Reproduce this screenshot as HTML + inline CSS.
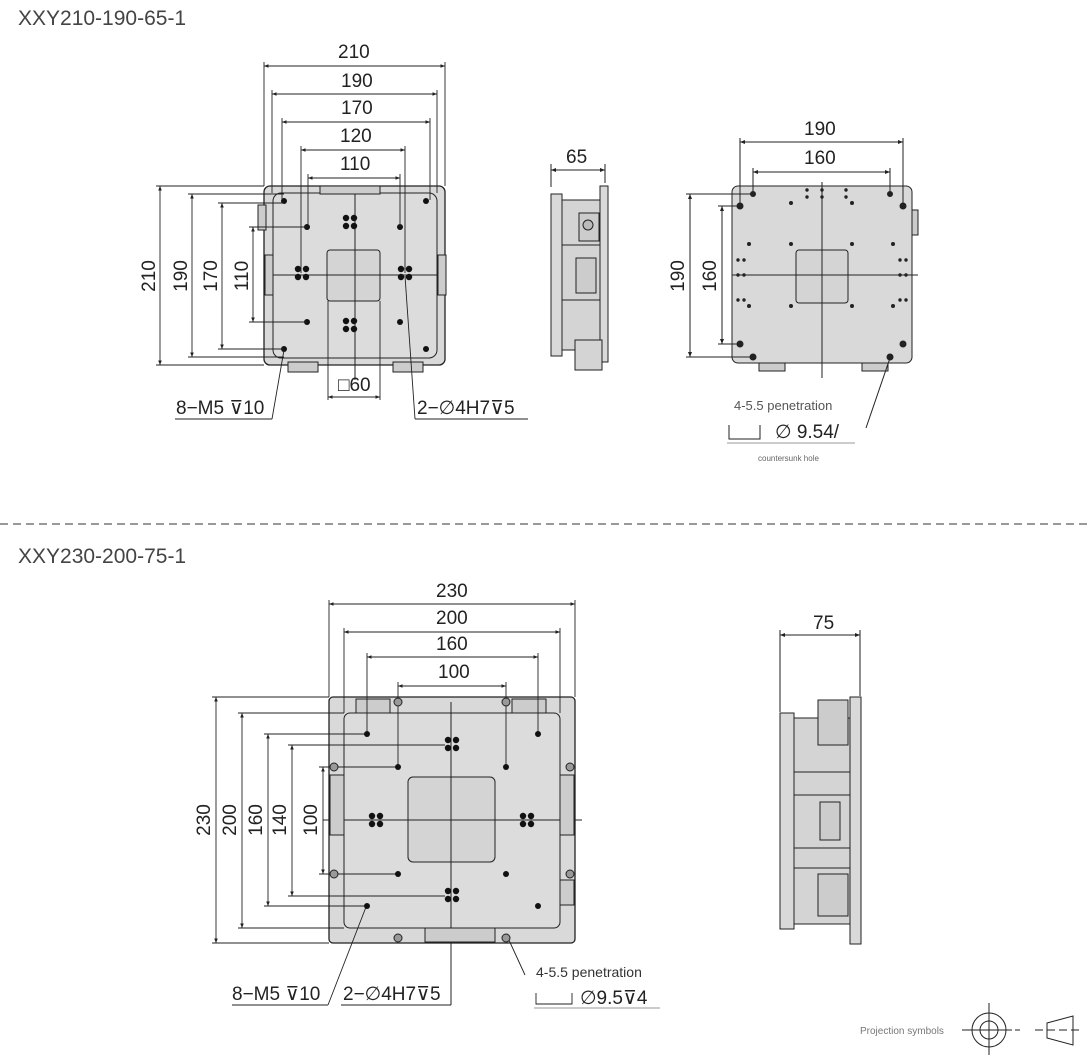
<!DOCTYPE html>
<html><head><meta charset="utf-8"><style>
html,body{margin:0;padding:0;background:#fff;}
svg{display:block}
text{font-family:"Liberation Sans",sans-serif;}
.d{font-family:"Liberation Sans Narrow","Liberation Sans",sans-serif;font-size:19px;fill:#222}
</style></head><body>
<svg width="1088" height="1055" viewBox="0 0 1088 1055" xmlns="http://www.w3.org/2000/svg">
<defs>
<marker id="a" viewBox="0 0 10 10" refX="10" refY="5" markerWidth="9" markerHeight="5" orient="auto-start-reverse"><path d="M0,1L10,5L0,9z" fill="#222"/></marker>
<g id="c4"><circle cx="-4" cy="-4" r="3.2"/><circle cx="4" cy="-4" r="3.2"/><circle cx="-4" cy="4" r="3.2"/><circle cx="4" cy="4" r="3.2"/></g>
</defs>
<g stroke="#222" fill="none" stroke-width="1">
<text x="18" y="25" font-size="21" fill="#444" stroke="none">XXY210-190-65-1</text>
<rect x="264" y="186" width="181" height="179" rx="6" fill="#d9d9d9" stroke-width="1.3"/>
<rect x="273" y="193" width="164" height="165" rx="8" fill="#dcdcdc"/>
<rect x="327" y="250" width="53" height="51" rx="3" fill="#d4d4d4"/>
<line x1="355" y1="186" x2="355" y2="380"/><line x1="270" y1="275" x2="445" y2="275"/>
<g fill="#111" stroke="none">
<circle cx="307" cy="227" r="3"/><circle cx="400" cy="227" r="3"/><circle cx="307" cy="322" r="3"/><circle cx="400" cy="322" r="3"/>
<circle cx="284" cy="201" r="3"/><circle cx="426" cy="201" r="3"/><circle cx="284" cy="349" r="3"/><circle cx="426" cy="349" r="3"/>
<use href="#c4" x="350" y="222"/><use href="#c4" x="350" y="325"/><use href="#c4" x="302" y="273"/><use href="#c4" x="405" y="273"/>
</g>
<rect x="320" y="186" width="60" height="8" fill="#ccc"/>
<rect x="288" y="362" width="30" height="10" fill="#ccc"/><rect x="393" y="362" width="30" height="10" fill="#ccc"/>
<rect x="258" y="205" width="8" height="25" fill="#ccc"/><rect x="265" y="255" width="8" height="40" fill="#ccc"/><rect x="438" y="255" width="8" height="40" fill="#ccc"/>
<g stroke-width="0.9">
<line x1="264" y1="62" x2="264" y2="186"/><line x1="445" y1="62" x2="445" y2="186"/>
<line x1="264" y1="66" x2="445" y2="66" marker-start="url(#a)" marker-end="url(#a)"/>
<line x1="272" y1="90" x2="272" y2="193"/><line x1="437" y1="90" x2="437" y2="193"/>
<line x1="272" y1="94" x2="437" y2="94" marker-start="url(#a)" marker-end="url(#a)"/>
<line x1="282" y1="118" x2="282" y2="200"/><line x1="430" y1="118" x2="430" y2="200"/>
<line x1="282" y1="122" x2="430" y2="122" marker-start="url(#a)" marker-end="url(#a)"/>
<line x1="301" y1="146" x2="301" y2="273"/><line x1="405" y1="146" x2="405" y2="273"/>
<line x1="301" y1="150" x2="405" y2="150" marker-start="url(#a)" marker-end="url(#a)"/>
<line x1="308" y1="174" x2="308" y2="227"/><line x1="400" y1="174" x2="400" y2="227"/>
<line x1="308" y1="178" x2="400" y2="178" marker-start="url(#a)" marker-end="url(#a)"/>
<line x1="156" y1="186" x2="264" y2="186"/><line x1="156" y1="365" x2="264" y2="365"/>
<line x1="160" y1="186" x2="160" y2="365" marker-start="url(#a)" marker-end="url(#a)"/>
<line x1="188" y1="194" x2="284" y2="194"/><line x1="188" y1="357" x2="284" y2="357"/>
<line x1="192" y1="194" x2="192" y2="357" marker-start="url(#a)" marker-end="url(#a)"/>
<line x1="218" y1="203" x2="284" y2="203"/><line x1="218" y1="349" x2="284" y2="349"/>
<line x1="222" y1="203" x2="222" y2="349" marker-start="url(#a)" marker-end="url(#a)"/>
<line x1="249" y1="227" x2="307" y2="227"/><line x1="249" y1="322" x2="307" y2="322"/>
<line x1="253" y1="227" x2="253" y2="322" marker-start="url(#a)" marker-end="url(#a)"/>
<line x1="328" y1="301" x2="328" y2="400"/><line x1="380" y1="301" x2="380" y2="400"/>
<line x1="328" y1="397" x2="380" y2="397" marker-start="url(#a)" marker-end="url(#a)"/>
<line x1="175" y1="419" x2="272" y2="419"/><line x1="272" y1="419" x2="284" y2="350"/>
<line x1="415" y1="419" x2="528" y2="419"/><line x1="415" y1="419" x2="405" y2="276"/>
</g>
</g>
<g class="d" stroke="none">
<text x="338" y="58">210</text><text x="341" y="87">190</text><text x="341" y="114">170</text><text x="340" y="142">120</text><text x="340" y="170">110</text>
<text transform="translate(155,276) rotate(-90)" text-anchor="middle">210</text>
<text transform="translate(187,276) rotate(-90)" text-anchor="middle">190</text>
<text transform="translate(217,276) rotate(-90)" text-anchor="middle">170</text>
<text transform="translate(248,276) rotate(-90)" text-anchor="middle">110</text>
<text x="338" y="391">□60</text>
<text x="176" y="414">8−M5 ⊽10</text>
<text x="417" y="414">2−∅4H7⊽5</text>
</g>
<g stroke="#222" stroke-width="1">
<line x1="551" y1="164" x2="551" y2="187"/><line x1="605" y1="164" x2="605" y2="183"/>
<line x1="551" y1="170" x2="605" y2="170" marker-start="url(#a)" marker-end="url(#a)"/>
<rect x="551" y="194" width="11" height="162" fill="#d9d9d9"/>
<rect x="562" y="200" width="40" height="150" fill="#d4d4d4"/>
<rect x="600" y="186" width="8" height="176" fill="#d9d9d9"/>
<rect x="575" y="340" width="27" height="30" fill="#d4d4d4"/>
<rect x="579" y="213" width="20" height="28" fill="#ccc"/><circle cx="588" cy="225" r="5" fill="#bbb"/>
<line x1="562" y1="245" x2="600" y2="245"/><line x1="562" y1="300" x2="600" y2="300"/>
<rect x="576" y="258" width="20" height="35" fill="#ccc"/>
</g>
<text class="d" x="566" y="163">65</text>
<g stroke="#222" stroke-width="1" fill="none">
<rect x="732" y="186" width="180" height="177" rx="6" fill="#d9d9d9"/>
<rect x="796" y="250" width="52" height="53" rx="3" fill="#d4d4d4"/>
<line x1="822" y1="182" x2="822" y2="378"/><line x1="732" y1="275" x2="918" y2="275"/>
<rect x="912" y="210" width="6" height="25" fill="#ccc"/>
<rect x="759" y="363" width="26" height="8" fill="#ccc"/><rect x="862" y="363" width="26" height="8" fill="#ccc"/>
<line x1="740" y1="138" x2="740" y2="206"/><line x1="903" y1="138" x2="903" y2="206"/>
<line x1="740" y1="142" x2="903" y2="142" marker-start="url(#a)" marker-end="url(#a)"/>
<line x1="753" y1="168" x2="753" y2="193"/><line x1="890" y1="168" x2="890" y2="193"/>
<line x1="753" y1="172" x2="890" y2="172" marker-start="url(#a)" marker-end="url(#a)"/>
<line x1="686" y1="194" x2="753" y2="194"/><line x1="686" y1="357" x2="753" y2="357"/>
<line x1="690" y1="194" x2="690" y2="357" marker-start="url(#a)" marker-end="url(#a)"/>
<line x1="718" y1="206" x2="740" y2="206"/><line x1="718" y1="344" x2="740" y2="344"/>
<line x1="722" y1="206" x2="722" y2="344" marker-start="url(#a)" marker-end="url(#a)"/>
<line x1="866" y1="428" x2="890" y2="358"/>
<path d="M729,425V439H760V425" fill="none"/><line x1="727" y1="443" x2="855" y2="443" stroke="#999"/>
</g>
<g fill="#222">
<circle cx="753" cy="194" r="3"/><circle cx="890" cy="194" r="3"/><circle cx="740" cy="206" r="3.5"/><circle cx="903" cy="206" r="3.5"/>
<circle cx="740" cy="344" r="3.5"/><circle cx="903" cy="344" r="3.5"/><circle cx="753" cy="357" r="3.5"/><circle cx="890" cy="357" r="3.5"/>
<circle cx="791" cy="203" r="2"/><circle cx="852" cy="203" r="2"/><circle cx="749" cy="244" r="2"/><circle cx="791" cy="244" r="2"/><circle cx="852" cy="244" r="2"/><circle cx="893" cy="244" r="2"/>
<circle cx="749" cy="306" r="2"/><circle cx="791" cy="306" r="2"/><circle cx="852" cy="306" r="2"/><circle cx="893" cy="306" r="2"/>
<circle cx="738" cy="260" r="1.7"/><circle cx="744" cy="260" r="1.7"/><circle cx="738" cy="275" r="1.7"/><circle cx="744" cy="275" r="1.7"/><circle cx="738" cy="300" r="1.7"/><circle cx="744" cy="300" r="1.7"/>
<circle cx="900" cy="260" r="1.7"/><circle cx="906" cy="260" r="1.7"/><circle cx="900" cy="275" r="1.7"/><circle cx="906" cy="275" r="1.7"/><circle cx="900" cy="300" r="1.7"/><circle cx="906" cy="300" r="1.7"/>
<circle cx="807" cy="190" r="1.7"/><circle cx="807" cy="197" r="1.7"/><circle cx="822" cy="190" r="1.7"/><circle cx="822" cy="197" r="1.7"/><circle cx="846" cy="190" r="1.7"/><circle cx="846" cy="197" r="1.7"/>
</g>
<g class="d" stroke="none">
<text x="804" y="135">190</text><text x="804" y="164">160</text>
<text transform="translate(684,276) rotate(-90)" text-anchor="middle">190</text>
<text transform="translate(716,276) rotate(-90)" text-anchor="middle">160</text>
</g>
<text x="734" y="410" font-size="13" fill="#555">4-5.5 penetration</text>
<text x="775" y="438" font-size="19" fill="#222">∅ 9.54/</text>
<text x="758" y="461" font-size="8" fill="#666">countersunk hole</text>
<line x1="0" y1="524" x2="1088" y2="524" stroke="#333" stroke-width="1" stroke-dasharray="8,5"/>
<text x="18" y="563" font-size="21" fill="#444">XXY230-200-75-1</text>
<g stroke="#222" fill="none" stroke-width="1">
<rect x="329" y="697" width="246" height="246" rx="4" fill="#d9d9d9" stroke-width="1.3"/>
<rect x="344" y="713" width="216" height="215" rx="6" fill="#dcdcdc"/>
<rect x="408" y="777" width="87" height="85" rx="5" fill="#d4d4d4"/>
<line x1="451" y1="702" x2="451" y2="1005"/><line x1="323" y1="820" x2="582" y2="820"/>
<rect x="356" y="699" width="34" height="14" fill="#ccc"/><rect x="512" y="699" width="34" height="14" fill="#ccc"/>
<rect x="425" y="928" width="70" height="14" fill="#ccc"/>
<rect x="330" y="775" width="14" height="60" fill="#ccc"/><rect x="560" y="775" width="14" height="60" fill="#ccc"/>
<rect x="560" y="880" width="14" height="25" fill="#ccc"/>
<g stroke-width="0.9">
<line x1="329" y1="600" x2="329" y2="697"/><line x1="575" y1="600" x2="575" y2="697"/>
<line x1="329" y1="604" x2="575" y2="604" marker-start="url(#a)" marker-end="url(#a)"/>
<line x1="344" y1="628" x2="344" y2="713"/><line x1="560" y1="628" x2="560" y2="713"/>
<line x1="344" y1="632" x2="560" y2="632" marker-start="url(#a)" marker-end="url(#a)"/>
<line x1="367" y1="653" x2="367" y2="734"/><line x1="538" y1="653" x2="538" y2="734"/>
<line x1="367" y1="657" x2="538" y2="657" marker-start="url(#a)" marker-end="url(#a)"/>
<line x1="398" y1="682" x2="398" y2="767"/><line x1="506" y1="682" x2="506" y2="767"/>
<line x1="398" y1="686" x2="506" y2="686" marker-start="url(#a)" marker-end="url(#a)"/>
<line x1="212" y1="697" x2="329" y2="697"/><line x1="212" y1="943" x2="329" y2="943"/>
<line x1="216" y1="697" x2="216" y2="943" marker-start="url(#a)" marker-end="url(#a)"/>
<line x1="238" y1="713" x2="344" y2="713"/><line x1="238" y1="928" x2="344" y2="928"/>
<line x1="242" y1="713" x2="242" y2="928" marker-start="url(#a)" marker-end="url(#a)"/>
<line x1="264" y1="734" x2="367" y2="734"/><line x1="264" y1="906" x2="367" y2="906"/>
<line x1="268" y1="734" x2="268" y2="906" marker-start="url(#a)" marker-end="url(#a)"/>
<line x1="288" y1="745" x2="445" y2="745"/><line x1="288" y1="896" x2="445" y2="896"/>
<line x1="292" y1="745" x2="292" y2="896" marker-start="url(#a)" marker-end="url(#a)"/>
<line x1="319" y1="767" x2="398" y2="767"/><line x1="319" y1="874" x2="398" y2="874"/>
<line x1="323" y1="767" x2="323" y2="874" marker-start="url(#a)" marker-end="url(#a)"/>
<line x1="232" y1="1005" x2="328" y2="1005"/><line x1="328" y1="1005" x2="366" y2="907"/>
<line x1="341" y1="1005" x2="451" y2="1005"/>
<line x1="525" y1="975" x2="508" y2="938"/>
<path d="M536,993V1004H572V993"/><line x1="534" y1="1008" x2="660" y2="1008" stroke="#999"/>
</g>
</g>
<g fill="#111">
<circle cx="367" cy="734" r="3"/><circle cx="538" cy="734" r="3"/><circle cx="367" cy="906" r="3"/><circle cx="538" cy="906" r="3"/>
<circle cx="398" cy="767" r="3"/><circle cx="506" cy="767" r="3"/><circle cx="398" cy="874" r="3"/><circle cx="506" cy="874" r="3"/>
<use href="#c4" x="452" y="744"/><use href="#c4" x="452" y="895"/><use href="#c4" x="376" y="820"/><use href="#c4" x="527" y="820"/>
</g>
<g fill="#999" stroke="#222"><circle cx="398" cy="702" r="4"/><circle cx="506" cy="702" r="4"/><circle cx="398" cy="938" r="4"/><circle cx="506" cy="938" r="4"/>
<circle cx="334" cy="767" r="4"/><circle cx="334" cy="874" r="4"/><circle cx="570" cy="767" r="4"/><circle cx="570" cy="874" r="4"/></g>
<g class="d" stroke="none">
<text x="436" y="597">230</text><text x="436" y="624">200</text><text x="436" y="650">160</text><text x="438" y="678">100</text>
<text transform="translate(210,820) rotate(-90)" text-anchor="middle">230</text>
<text transform="translate(236,820) rotate(-90)" text-anchor="middle">200</text>
<text transform="translate(262,820) rotate(-90)" text-anchor="middle">160</text>
<text transform="translate(286,820) rotate(-90)" text-anchor="middle">140</text>
<text transform="translate(317,820) rotate(-90)" text-anchor="middle">100</text>
<text x="232" y="1000">8−M5 ⊽10</text>
<text x="343" y="1000">2−∅4H7⊽5</text>
<text x="580" y="1004">∅9.5⊽4</text>
</g>
<text x="536" y="977" font-size="14" fill="#333">4-5.5 penetration</text>
<g stroke="#222" stroke-width="1">
<line x1="780" y1="630" x2="780" y2="712"/><line x1="860" y1="630" x2="860" y2="696"/>
<line x1="780" y1="635" x2="860" y2="635" marker-start="url(#a)" marker-end="url(#a)"/>
<rect x="780" y="713" width="14" height="216" fill="#d9d9d9"/>
<rect x="794" y="718" width="56" height="206" fill="#d4d4d4"/>
<rect x="850" y="697" width="11" height="247" fill="#d9d9d9"/>
<rect x="818" y="700" width="30" height="45" fill="#ccc"/>
<line x1="794" y1="772" x2="850" y2="772"/><line x1="794" y1="795" x2="850" y2="795"/><line x1="794" y1="848" x2="850" y2="848"/><line x1="794" y1="868" x2="850" y2="868"/>
<rect x="820" y="802" width="20" height="38" fill="#ccc"/>
<rect x="818" y="874" width="30" height="42" fill="#ccc"/>
</g>
<text class="d" x="813" y="629">75</text>
<text x="860" y="1034" font-size="10" fill="#777">Projection symbols</text>
<g stroke="#222" fill="none" stroke-width="1">
<circle cx="989" cy="1030" r="17"/><circle cx="989" cy="1030" r="9"/>
<line x1="962" y1="1030" x2="1012" y2="1030"/><line x1="989" y1="1003" x2="989" y2="1055"/>
<line x1="1015" y1="1030" x2="1020" y2="1030"/>
<path d="M1047,1023L1073,1016V1045L1047,1038Z"/>
<line x1="1035" y1="1030" x2="1083" y2="1030" stroke-dasharray="8,4"/>
</g>
</svg>
</body></html>
